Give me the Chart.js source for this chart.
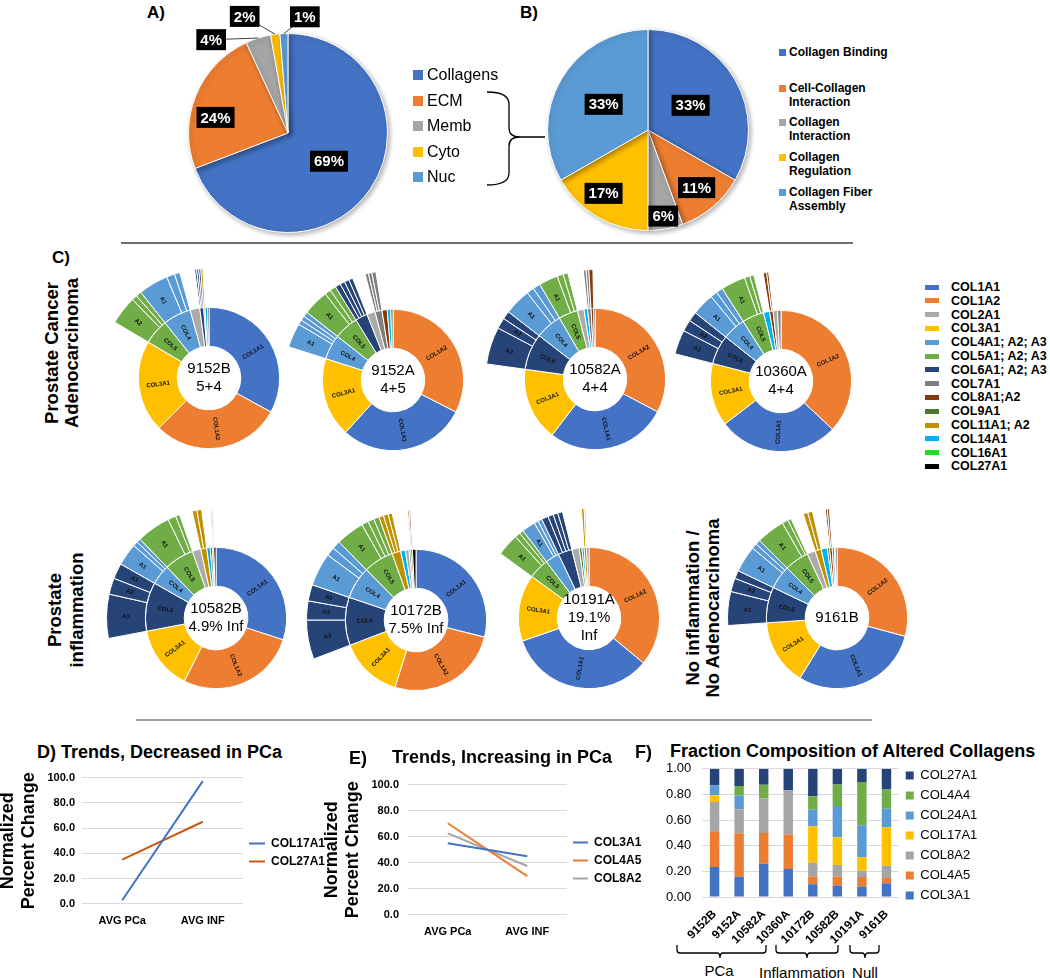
<!DOCTYPE html>
<html lang="en">
<head>
<meta charset="UTF-8">
<title>Collagen composition</title>
<script src="https://cdn.jsdelivr.net/npm/chart.js@4.4.1/dist/chart.umd.min.js"></script>
<style>
  body { margin: 0; background: #fff; font-family: "Liberation Sans", Arial, sans-serif; }
  #page { position: relative; width: 1050px; height: 978px; overflow: hidden; }
  #page canvas { position: absolute; }
  .t { position: absolute; white-space: pre; color: #000; }
  .rot { position: absolute; transform: translate(-50%, -50%) rotate(-90deg); text-align: center;
         font-weight: bold; font-size: 18.5px; line-height: 21px; white-space: pre; }
  .sw { position: absolute; }
  svg { position: absolute; left: 0; top: 0; }
</style>
</head>
<body>
<div id="page">
  <svg width="1050" height="978" fill="none" stroke="#000" stroke-width="1.3">
    <line x1="121" y1="243" x2="853" y2="243" stroke="#404040"/>
    <line x1="136" y1="720" x2="872" y2="720" stroke="#808080"/>
    <path d="M487,92 Q509,92 509,104 L509,128 Q509,137 520,137 L545,137 M520,137 Q509,137 509,146 L509,173 Q509,185 487,185"/>
    <path d="M677,945 L677,950 Q677,953 680,953 L717,953 Q720,953 720,958 Q720,953 723,953 L763,953 Q766,953 766,950 L766,945"/>
    <path d="M776,945 L776,950 Q776,953 779,953 L804,953 Q807,953 807,958 Q807,953 810,953 L835,953 Q838,953 838,950 L838,945"/>
    <path d="M850,945 L850,950 Q850,953 853,953 L862,953 Q865,953 865,958 Q865,953 868,953 L876,953 Q879,953 879,950 L879,945"/>
  </svg>
</div>

<script>
// ---- A) location of the altered proteins (%) ----
const locLabels = ['Collagens', 'ECM', 'Memb', 'Cyto', 'Nuc'];
const locValues = [69.2, 23.9, 4.1, 1.5, 1.3];
const locColors = ['#4472C4', '#ED7D31', '#A5A5A5', '#FFC000', '#5B9BD5'];

// ---- B) collagen related GO terms (%) ----
const goLabels = ['Collagen Binding', 'Cell-Collagen\nInteraction', 'Collagen\nInteraction', 'Collagen\nRegulation', 'Collagen Fiber\nAssembly'];
const goValues = [33.3, 11.1, 5.6, 16.7, 33.3];
const goColors = ['#4472C4', '#ED7D31', '#A5A5A5', '#FFC000', '#5B9BD5'];

// ---- C) collagen families ----
const famKeys = ['COL1A1', 'COL1A2', 'COL2A1', 'COL3A1', 'COL4', 'COL5', 'COL6', 'COL7A1', 'COL8', 'COL9A1', 'COL11', 'COL14A1', 'COL16A1', 'COL27A1'];
const famNames = ['COL1A1', 'COL1A2', 'COL2A1', 'COL3A1', 'COL4A1; A2; A3', 'COL5A1; A2; A3', 'COL6A1; A2; A3', 'COL7A1', 'COL8A1;A2', 'COL9A1', 'COL11A1; A2', 'COL14A1', 'COL16A1', 'COL27A1'];
const famColors = ['#4472C4', '#ED7D31', '#ABABAB', '#FFC000', '#5B9BD5', '#70AD47', '#264478', '#7F7F7F', '#843C0C', '#4B7A2F', '#BF9000', '#00B0F0', '#22DD22', '#000000'];

// per sample: inner ring clockwise from 12 o'clock (% of collagen signal), outer ring = sub-chains
const keys_9152B = ['COL1A1', 'COL1A2', 'COL3A1', 'COL5', 'COL4', 'COL2A1', 'COL6', 'COL11', 'COL14A1', 'COL27A1'];
const vals_9152B = [33, 29.5, 21, 5.8, 6.4, 2.2, 0.9, 0.3, 0.6, 0.3];
const kids_9152B = { COL5: [['A2', 4.2], ['A1', 0.8], ['A3', 0.8]], COL4: [['A1', 4.4], ['A2', 1.2], ['A3', 0.8]],
                     COL6: [['A1', 0.3], ['A2', 0.3], ['A3', 0.3]], COL11: [['A1', 0.3]] };

const keys_9152A = ['COL1A2', 'COL1A1', 'COL3A1', 'COL4', 'COL5', 'COL6', 'COL2A1', 'COL7A1', 'COL8', 'COL14A1', 'COL9A1'];
const vals_9152A = [32.5, 29.2, 18.2, 5.7, 5.6, 2.8, 1.9, 1.6, 1.2, 0.8, 0.5];
const kids_9152A = { COL4: [['A1', 3.6], ['A2', 0.7], ['A3', 0.7], ['A4', 0.7]], COL5: [['A1', 3.8], ['A2', 0.9], ['A3', 0.9]],
                     COL6: [['A1', 0.8], ['A2', 0.7], ['A3', 0.7], ['A5', 0.6]], COL7A1: [['A1', 0.5], ['A1', 0.5], ['A1', 0.6]] };

const keys_10582A = ['COL1A2', 'COL1A1', 'COL3A1', 'COL6', 'COL4', 'COL5', 'COL2A1', 'COL14A1', 'COL7A1', 'COL8', 'COL27A1'];
const vals_10582A = [32.7, 27.7, 16.8, 8.3, 6.1, 4.4, 1.5, 0.8, 0.8, 0.6, 0.3];
const kids_10582A = { COL6: [['A3', 5.5], ['A2', 1.6], ['A1', 1.2]], COL4: [['A1', 3.9], ['A2', 1.1], ['A3', 1.1]],
                      COL5: [['A1', 2.8], ['A2', 0.9], ['A3', 0.7]], COL7A1: [['A1', 0.4], ['A1', 0.4]], COL8: [['A1', 0.6]] };

const keys_10360A = ['COL1A2', 'COL1A1', 'COL3A1', 'COL6', 'COL4', 'COL5', 'COL14A1', 'COL8', 'COL2A1', 'COL7A1'];
const vals_10360A = [37, 27.6, 14.4, 6.7, 5.3, 5.0, 1.4, 0.8, 1.0, 0.8];
const kids_10360A = { COL6: [['A3', 3.6], ['A2', 1.7], ['A1', 1.4]], COL4: [['A1', 3.3], ['A2', 1.0], ['A3', 1.0]],
                      COL5: [['A1', 3.6], ['A2', 0.8], ['A3', 0.6]], COL8: [['A1', 0.5], ['A2', 0.3]] };

const keys_10582B = ['COL1A1', 'COL1A2', 'COL3A1', 'COL6', 'COL4', 'COL5', 'COL2A1', 'COL11', 'COL14A1', 'COL9A1', 'COL8', 'COL27A1'];
const vals_10582B = [30, 27.4, 14.6, 11.2, 4.6, 6.8, 1.9, 1.4, 0.8, 0.5, 0.3, 0.5];
const kids_10582B = { COL6: [['A3', 6.5], ['A2', 2.4], ['A1', 2.3]], COL4: [['A1', 3.3], ['A2', 0.7], ['A3', 0.6]],
                      COL5: [['A1', 5.0], ['A2', 1.2], ['A3', 0.6]], COL11: [['A1', 0.7], ['A2', 0.7]], COL8: [['A1', 0.15], ['A2', 0.15]] };

const keys_10172B = ['COL1A1', 'COL1A2', 'COL3A1', 'COL6', 'COL4', 'COL5', 'COL11', 'COL14A1', 'COL2A1', 'COL9A1', 'COL8', 'COL27A1'];
const vals_10172B = [28.9, 25.9, 14.4, 11, 7.4, 6.9, 2.0, 1.1, 0.8, 0.4, 0.4, 0.8];
const kids_10172B = { COL6: [['A3', 5.8], ['A2', 2.8], ['A1', 2.4]], COL4: [['A1', 4.9], ['A2', 1.3], ['A3', 1.2]],
                      COL5: [['A1', 4.2], ['A2', 1.0], ['A3', 0.9], ['A4', 0.8]], COL11: [['A1', 0.7], ['A2', 0.7], ['A3', 0.6]],
                      COL8: [['A1', 0.2], ['A2', 0.2]] };

const keys_10191A = ['COL1A2', 'COL1A1', 'COL3A1', 'COL5', 'COL4', 'COL6', 'COL2A1', 'COL9A1', 'COL14A1', 'COL11', 'COL7A1'];
const vals_10191A = [36, 33.7, 15.3, 4.7, 3.2, 3.2, 1.7, 0.6, 0.5, 0.6, 0.5];
const kids_10191A = { COL5: [['A1', 3.3], ['A2', 0.8], ['A3', 0.6]], COL4: [['A1', 2.0], ['A2', 0.6], ['A3', 0.6]],
                      COL6: [['A1', 1.0], ['A2', 0.8], ['A3', 0.7], ['A5', 0.7]], COL11: [['A1', 0.4], ['A2', 0.2]] };

const keys_9161B = ['COL1A2', 'COL1A1', 'COL3A1', 'COL6', 'COL4', 'COL5', 'COL2A1', 'COL11', 'COL14A1', 'COL9A1', 'COL8', 'COL7A1', 'COL16A1', 'COL27A1'];
const vals_9161B = [29.2, 29.6, 15.1, 8.2, 5.4, 5.6, 1.9, 1.4, 1.4, 0.5, 0.6, 0.5, 0.3, 0.3];
const kids_9161B = { COL6: [['A3', 5.0], ['A2', 2.0], ['A1', 1.2]], COL4: [['A1', 3.9], ['A2', 0.8], ['A3', 0.7]],
                     COL5: [['A1', 4.2], ['A2', 0.9], ['A3', 0.5]], COL11: [['A1', 0.7], ['A2', 0.7]], COL8: [['A1', 0.3], ['A2', 0.3]] };

// ---- D) / E) normalized percent change ----
const trendCats = ['AVG PCa', 'AVG INF'];
const dCOL17A1 = [2.8, 97.2];
const dCOL27A1 = [35, 65];
const eCOL3A1 = [55, 45];
const eCOL4A5 = [70.3, 29.7];
const eCOL8A2 = [62.5, 37.5];

// ---- F) fraction composition of altered collagens ----
const fracSamples = ['9152B', '9152A', '10582A', '10360A', '10172B', '10582B', '10191A', '9161B'];
const fCOL3A1  = [0.234, 0.159, 0.260, 0.219, 0.100, 0.091, 0.083, 0.107];
const fCOL4A5  = [0.279, 0.338, 0.240, 0.268, 0.060, 0.070, 0.073, 0.041];
const fCOL8A2  = [0.229, 0.188, 0.268, 0.346, 0.108, 0.089, 0.052, 0.097];
const fCOL17A1 = [0.052, 0, 0, 0, 0.284, 0.216, 0.102, 0.299];
const fCOL24A1 = [0.076, 0.107, 0, 0, 0.128, 0.245, 0.250, 0.144];
const fCOL4A4  = [0, 0.073, 0.107, 0, 0.106, 0.167, 0.338, 0.151];
const fCOL27A1 = [0.130, 0.135, 0.125, 0.167, 0.214, 0.122, 0.102, 0.161];

const FONT = '"Liberation Sans", Arial, sans-serif';
Chart.defaults.font.family = FONT;
Chart.defaults.color = '#000';
Chart.defaults.animation = false;
Chart.defaults.responsive = false;
Chart.defaults.events = [];
Chart.defaults.plugins.tooltip.enabled = false;

const page = document.getElementById('page');

function mk(x, y, w, h) {
  const c = document.createElement('canvas');
  c.width = w; c.height = h;
  c.style.left = x + 'px'; c.style.top = y + 'px';
  page.appendChild(c);
  return c;
}

function txt(s, x, y, css, center) {
  const d = document.createElement('div');
  d.className = 't';
  d.textContent = s;
  d.style.cssText += css;
  d.style.left = x + 'px';
  d.style.top = y + 'px';
  d.style.transform = center ? 'translate(-50%,-50%)' : 'translateY(-50%)';
  page.appendChild(d);
  return d;
}

function rotTxt(s, x, y, lh) {
  const d = document.createElement('div');
  d.className = 'rot';
  d.textContent = s;
  d.style.left = x + 'px';
  d.style.top = y + 'px';
  if (lh) d.style.lineHeight = lh + 'px';
  page.appendChild(d);
}

// black percentage boxes on the pies (Excel style)
const pctBoxes = {
  id: 'pctBoxes',
  beforeDatasetsDraw(chart) {
    const c = chart.ctx;
    c.save();
    c.shadowColor = 'rgba(0,0,0,0.3)';
    c.shadowBlur = 5;
    c.shadowOffsetX = 2;
    c.shadowOffsetY = 2;
  },
  afterDatasetsDraw(chart, args, opts) {
    const ctx = chart.ctx;
    ctx.restore();
    const vals = chart.data.datasets[0].data;
    const total = vals.reduce((a, b) => a + b, 0);
    chart.getDatasetMeta(0).data.forEach((arc, i) => {
      const p = arc.getProps(['x', 'y', 'startAngle', 'endAngle', 'outerRadius'], true);
      const [shift, rf] = opts.place[i];
      const mid = (p.startAngle + p.endAngle) / 2;
      const a = mid + shift * Math.PI / 180;
      const lx = p.x + Math.cos(a) * p.outerRadius * rf;
      const ly = p.y + Math.sin(a) * p.outerRadius * rf;
      const text = Math.round(vals[i] / total * 100) + '%';
      ctx.font = 'bold 15px ' + FONT;
      const w = ctx.measureText(text).width + 8, h = 21;
      if (rf > 1) {
        ctx.strokeStyle = '#404040';
        ctx.lineWidth = 1;
        ctx.beginPath();
        ctx.moveTo(lx, ly);
        ctx.lineTo(p.x + Math.cos(mid) * p.outerRadius, p.y + Math.sin(mid) * p.outerRadius);
        ctx.stroke();
      }
      ctx.fillStyle = '#000';
      ctx.fillRect(lx - w / 2, ly - h / 2, w, h);
      ctx.fillStyle = '#fff';
      ctx.textAlign = 'center';
      ctx.textBaseline = 'middle';
      ctx.fillText(text, lx, ly + 1);
    });
  }
};

// radial segment names + sample name in the hole of each sunburst
const ringText = {
  id: 'ringText',
  afterDatasetsDraw(chart, args, opts) {
    const ctx = chart.ctx;
    let cx = 0, cy = 0;
    chart.data.datasets.forEach((ds, di) => {
      chart.getDatasetMeta(di).data.forEach((arc, i) => {
        const p = arc.getProps(['x', 'y', 'startAngle', 'endAngle', 'innerRadius', 'outerRadius'], true);
        cx = p.x; cy = p.y;
        const name = ds.names[i];
        if (!name) return;
        const a = (p.startAngle + p.endAngle) / 2;
        const r = (p.innerRadius + p.outerRadius) / 2;
        ctx.save();
        ctx.translate(p.x + Math.cos(a) * r, p.y + Math.sin(a) * r);
        ctx.rotate(Math.cos(a) < 0 ? a + Math.PI : a);
        ctx.font = 'bold 6px ' + FONT;
        ctx.fillStyle = '#111';
        ctx.textAlign = 'center';
        ctx.textBaseline = 'middle';
        ctx.fillText(name, 0, 0);
        ctx.restore();
      });
    });
    const lines = opts.center;
    ctx.save();
    ctx.font = '15px ' + FONT;
    ctx.fillStyle = '#000';
    ctx.textAlign = 'center';
    ctx.textBaseline = 'middle';
    lines.forEach((l, k) => ctx.fillText(l, cx, cy + (k - (lines.length - 1) / 2) * 18));
    ctx.restore();
  }
};

const famColor = k => famColors[famKeys.indexOf(k)];

function sunburst(cx, cy, keys, vals, kids, center) {
  const outV = [], outC = [], outN = [], outB = [];
  keys.forEach((k, i) => {
    let used = 0;
    (kids[k] || []).forEach(([lab, v]) => {
      outV.push(v); outC.push(famColor(k)); outN.push(v >= 1.5 ? lab : ''); outB.push(1);
      used += v;
    });
    if (vals[i] - used > 0.001) {
      outV.push(vals[i] - used); outC.push('rgba(0,0,0,0)'); outN.push(''); outB.push(0);
    }
  });
  new Chart(mk(cx - 120, cy - 120, 240, 240), {
    type: 'doughnut',
    data: {
      datasets: [
        { data: outV, backgroundColor: outC, borderColor: '#fff', borderWidth: outB, names: outN },
        { data: vals, backgroundColor: keys.map(famColor), borderColor: '#fff', borderWidth: 1,
          names: keys.map((k, i) => vals[i] >= 4 ? k : '') }
      ]
    },
    options: {
      cutout: '29%',
      hoverOffset: 0,
      layout: { padding: 10 },
      plugins: { legend: { display: false }, ringText: { center } }
    },
    plugins: [ringText]
  });
}

// ---------- A ----------
txt('A)', 147, 13, 'font: bold 17px ' + FONT);
new Chart(mk(138, 3, 300, 260), {
  type: 'pie',
  data: { labels: locLabels, datasets: [{ data: locValues, backgroundColor: locColors, borderColor: '#fff', borderWidth: 1 }] },
  options: {
    hoverOffset: 0,
    layout: { padding: { left: 50, right: 50, top: 30, bottom: 30 } },
    plugins: { legend: { display: false },
      pctBoxes: { place: [[0, 0.5], [-10, 0.745], [-22, 1.215], [-13, 1.25], [10.6, 1.18]] } }
  },
  plugins: [pctBoxes]
});
locLabels.forEach((l, i) => {
  const y = 75 + i * 25.5;
  const s = document.createElement('div');
  s.className = 'sw';
  s.style.cssText = `left:413px;top:${y - 5}px;width:10px;height:10px;background:${locColors[i]}`;
  page.appendChild(s);
  txt(l, 427, y, 'font: 16px ' + FONT);
});

// ---------- B ----------
txt('B)', 520, 13, 'font: bold 17px ' + FONT);
new Chart(mk(528, 0, 240, 260), {
  type: 'pie',
  data: { labels: goLabels, datasets: [{ data: goValues, backgroundColor: goColors, borderColor: '#fff', borderWidth: 1 }] },
  options: {
    hoverOffset: 0,
    layout: { padding: { left: 19, right: 19, top: 29, bottom: 29 } },
    plugins: { legend: { display: false },
      pctBoxes: { place: [[0, 0.49], [0, 0.75], [0, 0.87], [5, 0.77], [0, 0.51]] } }
  },
  plugins: [pctBoxes]
});
[52, 88, 122, 157, 192].forEach((y, i) => {
  const s = document.createElement('div');
  s.className = 'sw';
  s.style.cssText = `left:779px;top:${y - 3.5}px;width:7px;height:7px;background:${goColors[i]}`;
  page.appendChild(s);
  const d = txt(goLabels[i], 789, y - 7.5, 'font: bold 12px ' + FONT + '; line-height:14.5px');
  d.style.transform = 'none';
});

// ---------- C ----------
txt('C)', 52, 258, 'font: bold 17px ' + FONT);
rotTxt('Prostate Cancer\nAdenocarcinoma', 62, 353, 20);
rotTxt('Prostate\ninflammation', 66, 610, 22);
rotTxt('No inflammation /\nNo Adenocarcinoma', 703, 608, 20);

sunburst(209, 378, keys_9152B, vals_9152B, kids_9152B, ['9152B', '5+4']);
sunburst(393, 380, keys_9152A, vals_9152A, kids_9152A, ['9152A', '4+5']);
sunburst(595, 379, keys_10582A, vals_10582A, kids_10582A, ['10582A', '4+4']);
sunburst(781, 381, keys_10360A, vals_10360A, kids_10360A, ['10360A', '4+4']);
sunburst(216, 618, keys_10582B, vals_10582B, kids_10582B, ['10582B', '4.9% Inf']);
sunburst(416, 620, keys_10172B, vals_10172B, kids_10172B, ['10172B', '7.5% Inf']);
sunburst(589, 618, keys_10191A, vals_10191A, kids_10191A, ['10191A', '19.1%', 'Inf']);
sunburst(837, 618, keys_9161B, vals_9161B, kids_9161B, ['9161B']);

famNames.forEach((n, i) => {
  const y = 287 + i * 13.8;
  const s = document.createElement('div');
  s.className = 'sw';
  s.style.cssText = `left:925px;top:${y - 2.5}px;width:14px;height:5px;background:${famColors[i]}`;
  page.appendChild(s);
  txt(n, 951, y, 'font: bold 12.5px ' + FONT);
});

// ---------- D / E ----------
function trendChart(canvas, datasets, tickPad, axisW, lineW) {
  datasets.forEach(d => { d.borderWidth = 2; d.backgroundColor = d.borderColor; });
  return new Chart(canvas, {
    type: 'line',
    data: { labels: trendCats, datasets },
    options: {
      layout: { padding: { top: 10, bottom: 3 } },
      elements: { point: { radius: 0 } },
      scales: {
        x: { offset: true, grid: { display: false }, border: { display: false },
             ticks: { font: { size: 11, weight: 'bold' }, padding: 3 } },
        y: { min: 0, max: 100, border: { display: false },
             grid: { color: '#D9D9D9', drawTicks: false },
             afterFit: s => { s.width = axisW; },
             ticks: { stepSize: 20, padding: tickPad, font: { size: 11, weight: 'bold' }, callback: v => v.toFixed(1) },
             title: { display: true, text: ['Normalized', 'Percent Change'], font: { size: 18, weight: 'bold' },
                      padding: { top: 0, bottom: 4 } } }
      },
      plugins: {
        legend: { position: 'right',
                  labels: { usePointStyle: true, pointStyle: 'line', pointStyleWidth: lineW,
                            font: { size: 12, weight: 'bold' }, padding: 6 } }
      }
    }
  });
}

txt('D) Trends, Decreased in PCa', 37, 752, 'font: bold 18px ' + FONT);
trendChart(mk(-3, 764, 328, 170), [
  { label: 'COL17A1', data: dCOL17A1, borderColor: '#4472C4' },
  { label: 'COL27A1', data: dCOL27A1, borderColor: '#C55A11' }
], 7, 85, 16);

txt('E)', 349, 758, 'font: bold 18px ' + FONT);
txt('Trends, Increasing in PCa', 392, 757, 'font: bold 18px ' + FONT);
trendChart(mk(321, 769, 328, 176), [
  { label: 'COL3A1', data: eCOL3A1, borderColor: '#4472C4' },
  { label: 'COL4A5', data: eCOL4A5, borderColor: '#ED7D31' },
  { label: 'COL8A2', data: eCOL8A2, borderColor: '#A5A5A5' }
], 9, 87, 15);

// ---------- F ----------
txt('F)', 635, 752, 'font: bold 18px ' + FONT);
txt('Fraction Composition of Altered Collagens', 670, 751, 'font: bold 18px ' + FONT);
new Chart(mk(654, 750, 326, 199), {
  type: 'bar',
  data: {
    labels: fracSamples,
    datasets: [
      { label: 'COL3A1', data: fCOL3A1, backgroundColor: '#4472C4' },
      { label: 'COL4A5', data: fCOL4A5, backgroundColor: '#ED7D31' },
      { label: 'COL8A2', data: fCOL8A2, backgroundColor: '#A5A5A5' },
      { label: 'COL17A1', data: fCOL17A1, backgroundColor: '#FFC000' },
      { label: 'COL24A1', data: fCOL24A1, backgroundColor: '#5B9BD5' },
      { label: 'COL4A4', data: fCOL4A4, backgroundColor: '#70AD47' },
      { label: 'COL27A1', data: fCOL27A1, backgroundColor: '#264478' }
    ]
  },
  options: {
    layout: { padding: { left: 1, top: 0 } },
    datasets: { bar: { barPercentage: 0.48, categoryPercentage: 0.8 } },
    scales: {
      x: { stacked: true, grid: { display: false }, border: { display: false },
           ticks: { autoSkip: false, minRotation: 45, maxRotation: 45, font: { size: 12, weight: 'bold' }, padding: 2 } },
      y: { stacked: true, min: 0, max: 1, border: { display: false },
           grid: { color: '#D9D9D9', drawTicks: false },
           ticks: { stepSize: 0.2, padding: 11, font: { size: 13 }, callback: v => v.toFixed(2) } }
    },
    plugins: {
      legend: { position: 'right', align: 'start', reverse: true,
                title: { display: true, text: '', padding: 0, font: { size: 10 } },
                labels: { boxWidth: 8, boxHeight: 8, font: { size: 13 }, padding: 7 } }
    }
  }
});
txt('PCa', 719, 970, 'font: 15px ' + FONT, true);
txt('Inflammation', 802, 972, 'font: 15px ' + FONT, true);
txt('Null', 865, 972, 'font: 15px ' + FONT, true);
</script>
</body>
</html>
